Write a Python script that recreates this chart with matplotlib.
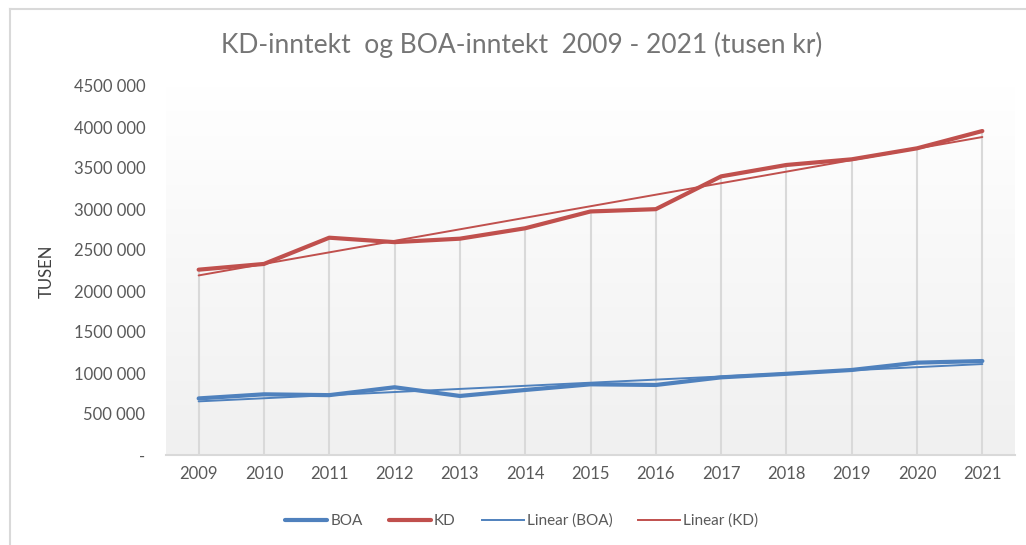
import numpy as np
import matplotlib
matplotlib.use("Agg")
import matplotlib.pyplot as plt
from matplotlib.lines import Line2D

years = [2009, 2010, 2011, 2012, 2013, 2014, 2015, 2016, 2017, 2018, 2019, 2020, 2021]
boa = [690000, 740000, 730000, 826000, 720000, 793000, 862000, 854000, 947000, 990000, 1037000, 1126000, 1146000]
kd = [2260000, 2330000, 2650000, 2596000, 2638000, 2765000, 2970000, 2998000, 3398000, 3537000, 3606000, 3740000, 3951000]
ytick_vals = [0, 500000, 1000000, 1500000, 2000000, 2500000, 3000000, 3500000, 4000000, 4500000]
ytick_labels = ["-", "500 000", "1000 000", "1500 000", "2000 000", "2500 000",
                "3000 000", "3500 000", "4000 000", "4500 000"]
title = "KD-inntekt  og BOA-inntekt  2009 - 2021 (tusen kr)"
ylabel = "TUSEN"

BLUE = "#4f81bd"
RED = "#c0504d"
TXT = "#595959"
FONT = "Lato"

plt.rcParams['font.family'] = [FONT, 'DejaVu Sans']

fig = plt.figure(figsize=(10.26, 5.45), dpi=100)
ax = fig.add_axes([166 / 1026, 1 - 455 / 545, (1015 - 166) / 1026, (455 - 86) / 545])

x = np.arange(len(years))
ax.set_xlim(-0.5, len(years) - 0.5)
ax.set_ylim(0, 4500000)

# gradient background
grad = np.linspace(0, 1, 256).reshape(-1, 1)
c_top = np.array([1.0, 1.0, 1.0])
c_bot = np.array([0xf0, 0xf0, 0xf0]) / 255
img = c_bot[None, None, :] * (1 - grad[:, :, None]) + c_top[None, None, :] * grad[:, :, None]
ax.imshow(img, extent=[-0.5, len(years) - 0.5, 0, 4500000], aspect='auto', origin='lower', zorder=0)

# drop lines
tops = np.maximum(np.array(boa), np.array(kd))
ax.vlines(x, 0, tops, colors="#d9d9d9", linewidth=1.5, zorder=1)

# trendlines
pb = np.polyfit(x, boa, 1)
pk = np.polyfit(x, kd, 1)
ax.plot(x, np.polyval(pb, x), color=BLUE, lw=1.4, zorder=3, solid_capstyle='round')
ax.plot(x, np.polyval(pk, x), color=RED, lw=1.4, zorder=3, solid_capstyle='round')

ax.plot(x, boa, color=BLUE, lw=3.0, zorder=4, solid_capstyle='round', solid_joinstyle='round')
ax.plot(x, kd, color=RED, lw=3.0, zorder=4, solid_capstyle='round', solid_joinstyle='round')

for s in ['top', 'right', 'left']:
    ax.spines[s].set_visible(False)
ax.spines['bottom'].set_color("#d9d9d9")
ax.spines['bottom'].set_linewidth(1.5)

ax.set_xticks(x)
ax.set_xticklabels([str(y) for y in years])
ax.set_yticks(ytick_vals)
ax.set_yticklabels(ytick_labels)
ax.tick_params(axis='both', length=0, colors=TXT, labelsize=12)
ax.tick_params(axis='y', pad=15)
ax.tick_params(axis='x', pad=8)

fig.text(47 / 1026, 1 - 271 / 545, ylabel, rotation=90, ha='center', va='center',
         color="#404040", fontsize=12)

fig.text(522 / 1026, 1 - 45 / 545, title, ha='center', va='center', color="#757575", fontsize=19)

handles = [Line2D([], [], color=BLUE, lw=3.0, solid_capstyle='round'),
           Line2D([], [], color=RED, lw=3.0, solid_capstyle='round'),
           Line2D([], [], color=BLUE, lw=1.4),
           Line2D([], [], color=RED, lw=1.4)]
labels = ["BOA", "KD", "Linear (BOA)", "Linear (KD)"]
leg = fig.legend(handles, labels, loc='center', bbox_to_anchor=(522 / 1026, 1 - 521 / 545), ncol=4,
                 frameon=False, fontsize=11, handlelength=2.75, handletextpad=0.2, columnspacing=1.7,
                 labelcolor=TXT)

# chart border (left and top)
fig.add_artist(Line2D([10 / 1026, 10 / 1026], [0, 1 - 9 / 545], transform=fig.transFigure,
                      color="#d9d9d9", lw=1.5))
fig.add_artist(Line2D([10 / 1026, 1], [1 - 9 / 545, 1 - 9 / 545], transform=fig.transFigure,
                      color="#d9d9d9", lw=1.5))

fig.savefig("out.png", dpi=100)
